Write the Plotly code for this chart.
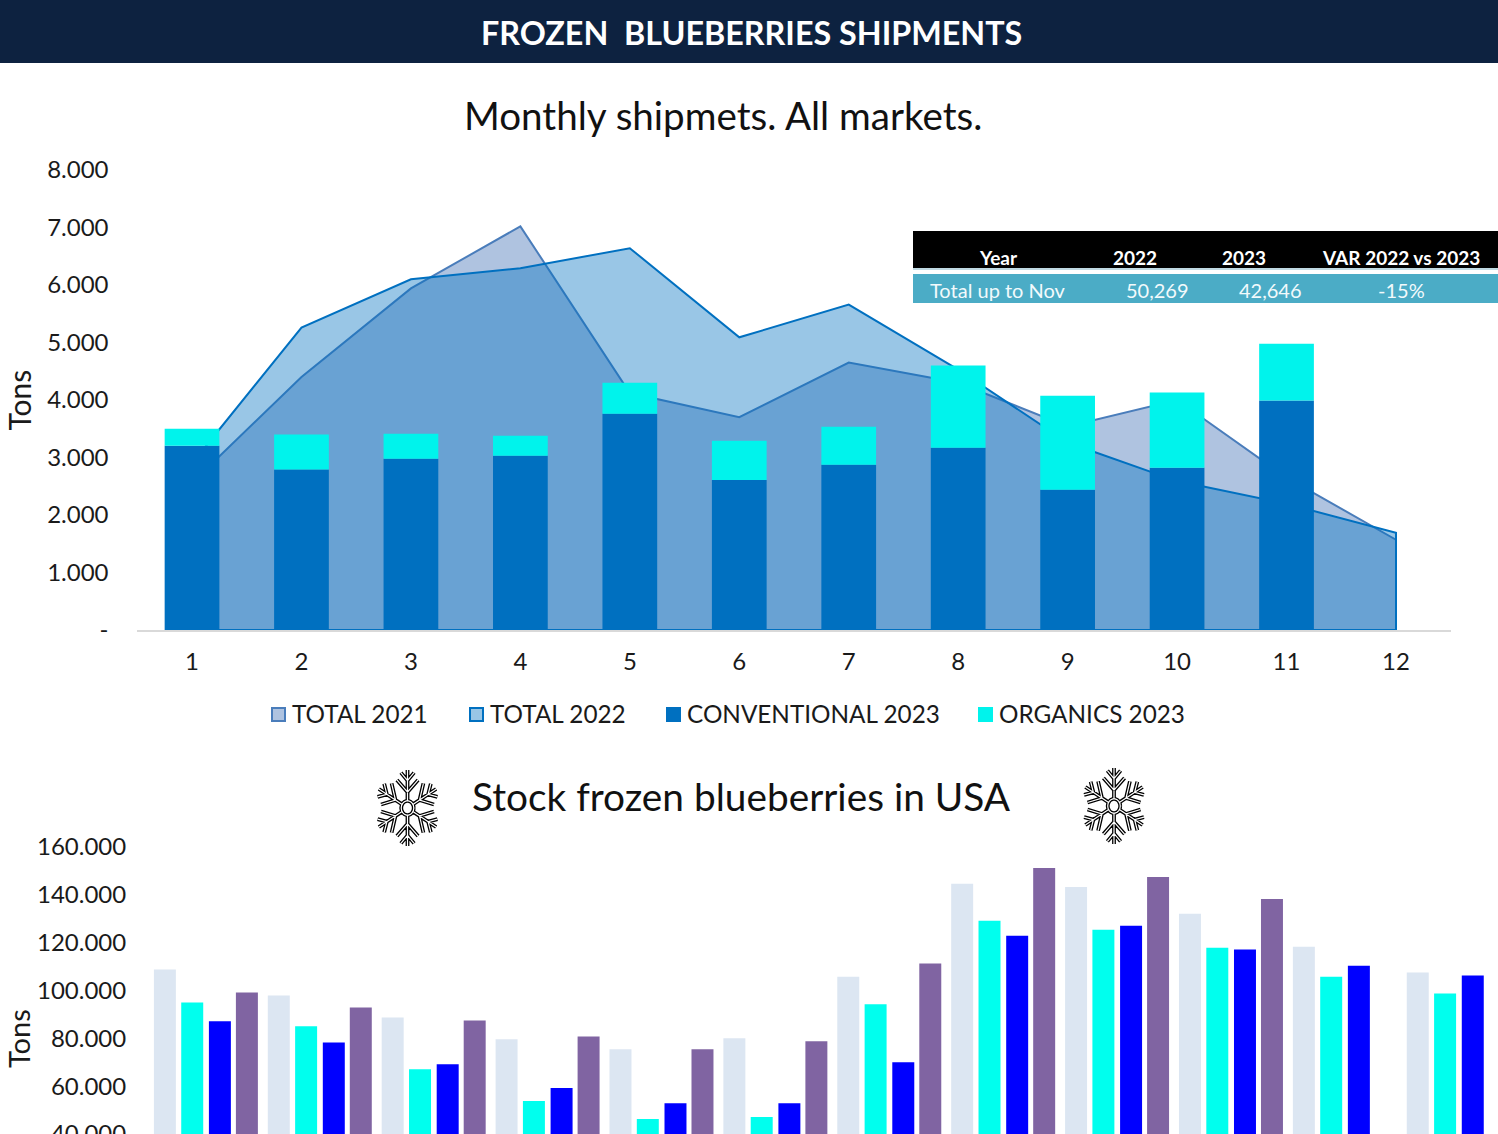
import math
import plotly.graph_objects as go

W, H = 1498, 1134
FONT = "Lato"

MONTHS = list(range(1, 13))
TOTAL_2021 = [2560, 4400, 5940, 7020, 4120, 3700, 4650, 4300, 3540, 4000, 2650, 1570]
TOTAL_2022 = [2900, 5260, 6100, 6290, 6640, 5090, 5660, 4530, 3260, 2590, 2195, 1690]
CONVENTIONAL_2023 = [3205, 2790, 2980, 3030, 3760, 2610, 2875, 3170, 2440, 2820, 3990]
ORGANICS_2023 = [295, 610, 435, 350, 540, 680, 660, 1430, 1635, 1310, 990]
Y_TICKS_TOP = [0, 1000, 2000, 3000, 4000, 5000, 6000, 7000, 8000]
Y_TICKTEXT_TOP = ["-", "1.000", "2.000", "3.000", "4.000", "5.000", "6.000", "7.000", "8.000"]

STOCK_A = [108750, 97900, 88750, 79600, 75400, 80000, 105800, 144600, 143300, 132100, 118300, 107500]
STOCK_B = [95000, 85000, 67100, 53750, 46250, 47100, 94200, 129200, 125400, 117900, 105800, 98750]
STOCK_C = [87100, 78300, 69200, 59200, 52900, 52900, 70000, 122900, 127100, 117100, 110400, 106250]
STOCK_D = [99200, 92900, 87500, 80800, 75400, 78750, 111250, 151250, 147500, 138300]
Y_TICKS_LOW = [40000, 60000, 80000, 100000, 120000, 140000, 160000]
Y_TICKTEXT_LOW = ["40.000", "60.000", "80.000", "100.000", "120.000", "140.000", "160.000"]

TABLE_HEAD = ["Year", "2022", "2023", "VAR 2022 vs 2023"]
TABLE_ROW = ["Total up to Nov", "50,269", "42,646", "-15%"]
LEGEND_NAMES = ["TOTAL 2021", "TOTAL 2022", "CONVENTIONAL 2023", "ORGANICS 2023"]


def px(x):
    return x / W


def py(y):
    return 1 - y / H


fig = go.Figure()

# upper chart: areas on the base axes, bars on an overlaying pair so that they sit on top
fig.add_trace(go.Scatter(x=MONTHS + [12, 1], y=TOTAL_2021 + [0, 0], name="TOTAL 2021", mode="lines",
                         fill="toself", fillcolor="rgba(55,105,177,0.4)",
                         line=dict(color="#4A7DBB", width=2), showlegend=False, xaxis="x", yaxis="y"))
fig.add_trace(go.Scatter(x=MONTHS + [12, 1], y=TOTAL_2022 + [0, 0], name="TOTAL 2022", mode="lines",
                         fill="toself", fillcolor="rgba(0,112,192,0.4)",
                         line=dict(color="#0070C0", width=2), showlegend=False, xaxis="x", yaxis="y"))
fig.add_trace(go.Bar(x=MONTHS[:11], y=CONVENTIONAL_2023, name="CONVENTIONAL 2023", marker_color="#0070C0",
                     marker_line_width=0, showlegend=False, xaxis="x3", yaxis="y3", width=0.5, offset=-0.25))
fig.add_trace(go.Bar(x=MONTHS[:11], y=ORGANICS_2023, base=CONVENTIONAL_2023, name="ORGANICS 2023",
                     marker_color="#00F3EC", marker_line_width=0, showlegend=False, xaxis="x3", yaxis="y3",
                     width=0.5, offset=-0.25))

# lower chart: four bars per category, placed side by side
for vals, col, off in ((STOCK_A, "#DCE6F2", -0.457), (STOCK_B, "#00FFEE", -0.217),
                       (STOCK_C, "#0000FF", 0.026), (STOCK_D, "#8064A2", 0.263)):
    fig.add_trace(go.Bar(x=MONTHS[:len(vals)], y=vals, marker_color=col, marker_line_width=0,
                         showlegend=False, xaxis="x2", yaxis="y2", width=0.193, offset=off))

tick_transparent = "rgba(0,0,0,0)"
fig.update_layout(
    width=W, height=H, margin=dict(l=0, r=0, t=0, b=0, autoexpand=False),
    paper_bgcolor="white", plot_bgcolor="white",
    font=dict(family=FONT, color="#1a1a1a", size=24),
    barmode="overlay", showlegend=False,
    xaxis=dict(domain=[px(137.3), px(1450.7)], range=[0.5, 12.5], tickmode="array", tickvals=MONTHS,
               ticktext=[str(m) for m in MONTHS], showgrid=False, zeroline=False,
               showline=True, linecolor="#D9D9D9", linewidth=2, ticks="outside", ticklen=9,
               tickcolor=tick_transparent, tickfont=dict(size=24), anchor="y"),
    yaxis=dict(domain=[py(630), py(170)], range=[0, 8000], tickmode="array", tickvals=Y_TICKS_TOP,
               ticktext=Y_TICKTEXT_TOP, showgrid=False, zeroline=False, ticks="outside", ticklen=23,
               tickcolor=tick_transparent, tickfont=dict(size=24), anchor="x"),
    xaxis3=dict(overlaying="x", matches="x", visible=False, anchor="y3"),
    yaxis3=dict(overlaying="y", matches="y", visible=False, anchor="x3"),
    xaxis2=dict(domain=[px(149), 1], range=[0.5, 12.344], tickmode="array", tickvals=[], showgrid=False,
                zeroline=False, showline=False, anchor="y2"),
    yaxis2=dict(domain=[0, py(847)], range=[40000, 160000], tickmode="array", tickvals=Y_TICKS_LOW,
                ticktext=Y_TICKTEXT_LOW, showgrid=False, zeroline=False, ticks="outside", ticklen=17,
                tickcolor=tick_transparent, tickfont=dict(size=24), anchor="x2", ticklabeloverflow="allow"),
)

shapes = [
    dict(type="rect", xref="paper", yref="paper", x0=0, x1=1, y0=py(63), y1=1, fillcolor="#0D2240", line_width=0, layer="above"),
    dict(type="rect", xref="paper", yref="paper", x0=px(913), x1=1, y0=py(268), y1=py(231), fillcolor="#000000", line_width=0, layer="above"),
    dict(type="rect", xref="paper", yref="paper", x0=px(913), x1=1, y0=py(303), y1=py(274), fillcolor="#4BACC6", line_width=0, layer="above"),
    dict(type="rect", xref="paper", yref="paper", x0=px(913), x1=1, y0=py(270), y1=py(268), fillcolor="#BFD9E2", line_width=0, layer="above"),
]

ann = []


def text(x, y, s, size, color="#1a1a1a", bold=False, angle=0, xanchor="center"):
    ann.append(dict(x=px(x), y=py(y), xref="paper", yref="paper", text=f"<b>{s}</b>" if bold else s,
                    showarrow=False, xanchor=xanchor, yanchor="middle", textangle=angle,
                    font=dict(size=size, color=color, family=FONT)))


text(751, 33, "FROZEN\u00a0 BLUEBERRIES SHIPMENTS", 32.3, "white", True)
text(723, 115, "Monthly shipmets. All markets.", 38.6, "#111111")
text(741.5, 796, "Stock frozen blueberries in USA", 38.8, "#111111")
text(18.5, 400, "Tons", 30, angle=-90)
text(18, 1039, "Tons", 29, angle=-90)

for xc, s in zip((998, 1135, 1244, 1401), TABLE_HEAD):
    text(xc, 258, s, 19, "white", True)
for xc, s in zip((998, 1157, 1270, 1401), TABLE_ROW):
    text(xc, 289.5, s, 20, "#F2FAFC")

LEG_X = (271, 469, 666, 978)
LEG_FILL = ("#AFC3E0", "#99C6E6", "#0070C0", "#00F3EC")
LEG_LINE = ("#4A7DBB", "#0070C0", "#0070C0", "#00F3EC")
for lx, name, f, l in zip(LEG_X, LEGEND_NAMES, LEG_FILL, LEG_LINE):
    shapes.append(dict(type="rect", xref="paper", yref="paper", x0=px(lx + 1), x1=px(lx + 14), y0=py(721), y1=py(708),
                       fillcolor=f, line=dict(color=l, width=2), layer="above"))
    text(lx + 18.5, 713, name, 24.3, xanchor="left")


def flake_path(cx, cy, r):
    parts = []
    sx = 0.87

    def seg(pts):
        parts.append("M" + "L".join(f"{px(cx + (a - cx) * sx):.6f},{py(b):.6f}" for a, b in pts))

    for k in range(6):
        a = math.radians(60 * k)
        ux, uy = math.sin(a), -math.cos(a)
        vx, vy = math.cos(a), math.sin(a)

        def P(side, rad):
            return (cx + r * (ux * rad + vx * side), cy + r * (uy * rad + vy * side))

        seg([P(0, 0.2), P(0, 1.0)])
        seg([P(-0.32, 0.74), P(0, 0.42), P(0.32, 0.74)])
        seg([P(-0.2, 0.93), P(0, 0.72), P(0.2, 0.93)])
    ring = [(cx + r * 0.19 * math.cos(math.radians(t)), cy + r * 0.19 * math.sin(math.radians(t))) for t in range(0, 361, 20)]
    seg(ring)
    return "".join(parts)


for cx, cy, r in ((407.5, 808, 38), (1114, 806, 38)):
    path = flake_path(cx, cy, r)
    shapes.append(dict(type="path", xref="paper", yref="paper", path=path, line=dict(color="#000000", width=3.8), layer="above"))
    shapes.append(dict(type="path", xref="paper", yref="paper", path=path, line=dict(color="#FFFFFF", width=1.2), layer="above"))

fig.update_layout(shapes=shapes, annotations=ann)

fig.write_html("out.html", config={"displayModeBar": False},
               post_script="document.body.style.margin='0';document.body.style.overflow='hidden';")
